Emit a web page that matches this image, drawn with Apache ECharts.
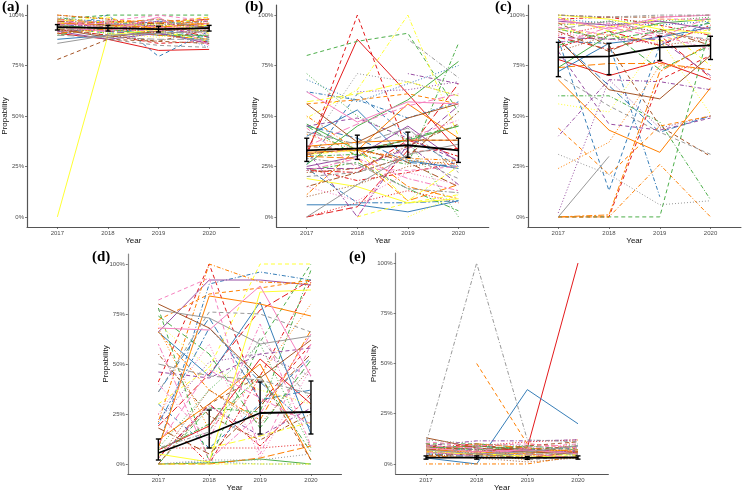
<!DOCTYPE html>
<html><head><meta charset="utf-8">
<style>html,body{margin:0;padding:0;background:#fff}#c{width:742px;height:493px}</style>
<script src="https://cdn.jsdelivr.net/npm/echarts@6/dist/echarts.min.js"></script>
</head><body><div id="c"></div>
<script>
const years=[2017,2018,2019,2020];
const yTicks=[0,25,50,75,100];
const n=null;
// --- panel (a)
const a_red=[[91,88,82.5,83],[93,90,86,87],[96,94,91,92],[97,96,93,95],[95,97,96,98],[92,93,95,89]];
const a_blue=[[88,90,91,87],[93,100,79.5,92],[94,95,93,84],[98,97,94,96],[96,92,93,89],[91,94,97,94]];
const a_green=[[95,93,90,90],[98,100,100,100],[97,96,95,93],[92,94,96,97],[94,91,92,88],[90,95,94,92]];
const a_purple=[[92,88,91,86],[96,94,97,98],[94,96,93,91],[97,93,95,97],[93,92,90,94]];
const a_orange=[[96,95,94,96],[100,98,96,99],[95,92,93,97],[93,95,90,88],[98,96,98,95],[91,93,94,98]];
const a_yellow=[[0,90,93,95],[97,99,92,87],[94,91,89,94],[96,97,95,99],[93,94,96,91]];
const a_brown=[[93,89,92,94],[78,88,87,86],[100,98,94,92],[93,90,87,93],[97,95,96,94]];
const a_pink=[[94,92,99,85],[96,97,100,97],[92,94,97,90],[98,93,92,96],[95,96,94,93]];
const a_gray=[[86,90,91,92],[95,88,85,84],[99,96,95,97],[93,95,98,93],[90,89,88,88]];
const a_mean=[94,93.5,93,93.5], a_low=[92.6,92.1,91.6,92.1], a_high=[95.3,94.9,94.4,94.9];
// --- panel (b)
const b_red=[[32,88,61,33],[30,100,32,34],[0,7,13,7],[24,18,22,27],[0,5,33,66],[23,22,38,30]];
const b_blue=[[6,6,2.5,8],[26,61,40,25],[68,57,66,75],[62,58,49,57],[45,39,27,25],[24,7,7,8],[40,53,28,24]];
const b_green=[[46,33,38,45],[80,87,91,52],[71,50,38,0],[30,31,26,86],[45,30,39,45],[23,27,14,3],[26,45,58,77]];
const b_purple=[[25,30,45,27],[45,49,39,28],[n,62,63,67],[n,n,71,66],[24,24,34,55],[33,0,36,16]];
const b_orange=[[32,33,56,39],[56,58,61,56],[41,33,28,26],[50,33,29,28],[30,29,8,16],[11,34,15,9],[35,37,38,38]];
const b_yellow=[[19,15,7,9],[n,0,7,11],[n,n,0,11],[49,63,100,40],[57,61,67,60],[31,33,8,25]];
const b_brown=[[56,37,49,56],[35,33,38,38],[10,16,25,28],[22,24,35,46],[31,34,27,15],[15,22,30,52]];
const b_pink=[[62,47,57,56],[44,24,23,25],[15,8,22,16],[n,0,39,48],[35,46,55,61],[23,29,19,13]];
const b_gray=[[0,16,31,36],[20,22,30,19],[34,71,67,60],[n,n,88,69],[42,36,44,22],[29,26,14,12]];
const b_mean=[33,34,35.5,33], b_low=[27.5,28.5,29.5,27], b_high=[39,40.5,42,39];
// --- panel (c)
const c_red=[[78,70,77,68],[0,0,68,80],[90,95,92,87],[98,99,95,90],[89,83,90,69],[84,92,85,95]];
const c_blue=[[72,86,89,94],[88,13,85,97],[98,96,95,97],[87,86,10,n],[88,65,42,50]];
const c_green=[[74,90,96,98],[0,0,0,95],[95,97,97,99],[60,60,47,8.5],[85,92,73,85],[93,88,92,96]];
const c_purple=[[97,95,97,93],[82,46,43,49],[2,68,44,50],[40,68,67,63],[89,88,88,70]];
const c_orange=[[68,43,32,64],[44,21,45,50],[24,37,75,73],[0,0,26,0],[74,76,76,73],[0,1,72,86]];
const c_yellow=[[100,98,93,91],[99,92,95,75],[56,52,88,51],[93,90,87,93],[96,94,98,97]];
const c_brown=[[88,63,58.5,80],[96,85,45,30],[82,90,85,88],[100,99,99,100],[92,82,93,85]];
const c_pink=[[98,93,99,100],[94,90,98,98],[91,88,86,94],[96,96,90,83],[86,94,89,99]];
const c_gray=[[0,30,n,n],[70,55,42,31],[31,21,6,8],[100,99,100,100],[93,97,91,88]];
const c_mean=[79,79.5,84,85], c_low=[69.5,70.5,77.5,78], c_high=[86.5,86,89.5,89.5];
// --- panel (d)
const d_red=[[7,19,52.5,30],[41,100,30,60],[8,8,8,10],[25,0,44,91],[19,45,77,92],[3,30,9,35]];
const d_blue=[[66,44,81,15],[30,8,30,53],[0,1,0,0],[8,90,96,92],[36,73,32,37],[20,68,41,18]];
const d_green=[[0,0.5,2.5,0],[78,1,61,100],[8,37,60,8],[0,28,26,97],[74,55,18,52],[7,20,44,6]];
const d_purple=[[66,92,92,89.5],[46,43,55,58],[22,51,55,44],[3,29,14,28]];
const d_orange=[[8,84,80,74],[72,85,88,92],[68,17,44,80],[21,100,91,90],[0,0,3,9],[66,37,22,67],[12,30,50,2]];
const d_yellow=[[5,1,86,87],[30,48,100,100],[70,48,37,30],[0,0,0,0],[n,8,14,21]];
const d_brown=[[80,68,43,62],[0,30,44,2],[3,37,20,48],[55,24,12,25],[18,5,29,55]];
const d_pink=[[68,67,89,44],[82,93,5,60],[25,60,3,48],[40,12,70,9],[10,47,33,20],[60,2,25,65]];
const d_gray=[[77,73,60,64],[36,76,75,66],[0,2,2,5],[8,16,63,32],[50,44,42,35]];
const d_mean=[5.5,15,25.5,26], d_low=[2,8,15,15], d_high=[12.5,27,41,41.5];
// --- panel (e)
const e_red=[[7,6,8,100],[9,7,5,9],[5,9,11,12],[8,10,6,7],[6,5,7,5],[7,8,3,6]];
const e_blue=[[3,0,37,20],[8,9,7,8],[6,7,8,4],[9,6,4,7],[5,4,6,9]];
const e_green=[[8,9,7,5],[10,10,8,6],[6,8,5,10],[7,5,3,4],[9,7,9,7]];
const e_purple=[[6,4,7,6],[8,7,5,8],[5,6,4,3],[9,11.5,11.5,12]];
const e_orange=[[7,6,5,3],[n,50,10,8],[9,5,2,12],[0,0,0,4],[6,10,8,6],[4,3,6,7]];
const e_yellow=[[6,5,4,3],[8,6,3,5],[4,7,5,8],[7,4,6,4]];
const e_brown=[[13,8,6,5],[10,6,9,11],[5,3,1,3],[7,9,7,9],[4,5,3,6]];
const e_pink=[[8,6,7,5],[11,9,10,8],[5,7,4,7],[6,4,8,10],[9,8,5,3]];
const e_gray=[[7,5,6,9],[5,8,2,4],[12,10,9,7],[10,100,12,11],[3,4,5,5]];
const e_mean=[3.2,3.2,3,3.2], e_low=[2.4,2.4,2.3,2.4], e_high=[4,4,3.7,4];

const hues=['#E41A1C','#377EB8','#4DAF4A','#984EA3','#FF7F00','#FFFF33','#A65628','#F781BF','#999999'];
const dashes=['solid',[4,3],[1,2],[1,2,4,2],[7,3],[2,2,6,2]];
const panels=[
 {tag:'(a)',groups:[a_red,a_blue,a_green,a_purple,a_orange,a_yellow,a_brown,a_pink,a_gray],mean:a_mean,low:a_low,high:a_high,left:26.5,top:5,right:239.5,bottom:227,yLine:'#555',tx:2,ty:0},
 {tag:'(b)',groups:[b_red,b_blue,b_green,b_purple,b_orange,b_yellow,b_brown,b_pink,b_gray],mean:b_mean,low:b_low,high:b_high,left:276.4,top:5,right:488.8,bottom:227,yLine:'#555',tx:245,ty:0},
 {tag:'(c)',groups:[c_red,c_blue,c_green,c_purple,c_orange,c_yellow,c_brown,c_pink,c_gray],mean:c_mean,low:c_low,high:c_high,left:527.8,top:5,right:741,bottom:227,yLine:'#555',tx:495,ty:0},
 {tag:'(d)',groups:[d_red,d_blue,d_green,d_purple,d_orange,d_yellow,d_brown,d_pink,d_gray],mean:d_mean,low:d_low,high:d_high,left:127.8,top:254,right:341.5,bottom:476,yLine:'#888',tx:92,ty:250},
 {tag:'(e)',groups:[e_red,e_blue,e_green,e_purple,e_orange,e_yellow,e_brown,e_pink,e_gray],mean:e_mean,low:e_low,high:e_high,left:395.6,top:253,right:608.4,bottom:474,yLine:'#888',tx:349,ty:250}
];
const grid=[],xAxis=[],yAxis=[],series=[],title=[];
panels.forEach((p,i)=>{
 grid.push({left:p.left,top:p.top,width:p.right-p.left,height:p.bottom-p.top});
 const axisTick={show:true,length:2,lineStyle:{color:'#444',width:.7}};
 xAxis.push({type:'value',gridIndex:i,min:2016.4,max:2020.6,splitLine:{show:false},
  axisLine:{show:true,onZero:false,lineStyle:{color:'#555',width:1}},
  axisTick:{...axisTick,customValues:years},
  axisLabel:{customValues:years,formatter:v=>String(v),fontSize:6,color:'#4D4D4D',margin:3,fontFamily:'Liberation Sans'},
  name:'Year',nameLocation:'middle',nameGap:10,nameMoveOverlap:false,nameTextStyle:{fontSize:8,color:'#111',fontFamily:'Liberation Sans'}});
 yAxis.push({type:'value',gridIndex:i,min:-5,max:105,splitLine:{show:false},
  axisLine:{show:true,onZero:false,lineStyle:{color:p.yLine,width:1.2}},
  axisTick:{...axisTick,customValues:yTicks},
  axisLabel:{customValues:yTicks,formatter:v=>v+'%',fontSize:6,color:'#4D4D4D',margin:3,fontFamily:'Liberation Sans'},
  name:'Propability',nameLocation:'middle',nameGap:18,nameMoveOverlap:false,nameTextStyle:{fontSize:8,color:'#111',fontFamily:'Liberation Sans'}});
 title.push({text:p.tag,left:p.tx,top:p.ty,padding:0,textStyle:{fontFamily:'Liberation Serif',fontWeight:'bold',fontSize:15,color:'#000'}});
 p.groups.forEach((g,h)=>g.forEach((vals,k)=>{
  series.push({type:'line',xAxisIndex:i,yAxisIndex:i,silent:true,symbol:'none',animation:false,connectNulls:false,
   data:years.map((y,j)=>[y,vals[j]]),
   lineStyle:{color:hues[h],width:1,type:dashes[k%dashes.length]},z:2});
 }));
 series.push({type:'line',xAxisIndex:i,yAxisIndex:i,silent:true,symbol:'none',animation:false,
  data:years.map((y,j)=>[y,p.mean[j]]),lineStyle:{color:'#000',width:1.8},z:5});
 series.push({type:'custom',xAxisIndex:i,yAxisIndex:i,silent:true,animation:false,z:6,
  data:years.map((y,j)=>[y,p.low[j],p.high[j]]),
  encode:{x:0,y:[1,2]},
  renderItem:(params,api)=>{
   const a=api.coord([api.value(0),api.value(1)]), b=api.coord([api.value(0),api.value(2)]);
   const st={stroke:'#000',lineWidth:1.4,fill:null};
   return {type:'group',children:[
    {type:'line',shape:{x1:a[0],y1:a[1],x2:b[0],y2:b[1]},style:st},
    {type:'line',shape:{x1:a[0]-2.5,y1:a[1],x2:a[0]+2.5,y2:a[1]},style:st},
    {type:'line',shape:{x1:b[0]-2.5,y1:b[1],x2:b[0]+2.5,y2:b[1]},style:st}
   ]};
  }});
});
const chart=echarts.init(document.getElementById('c'),null,{renderer:'canvas'});
chart.setOption({animation:false,backgroundColor:'#fff',title,grid,xAxis,yAxis,series});
</script></body></html>
